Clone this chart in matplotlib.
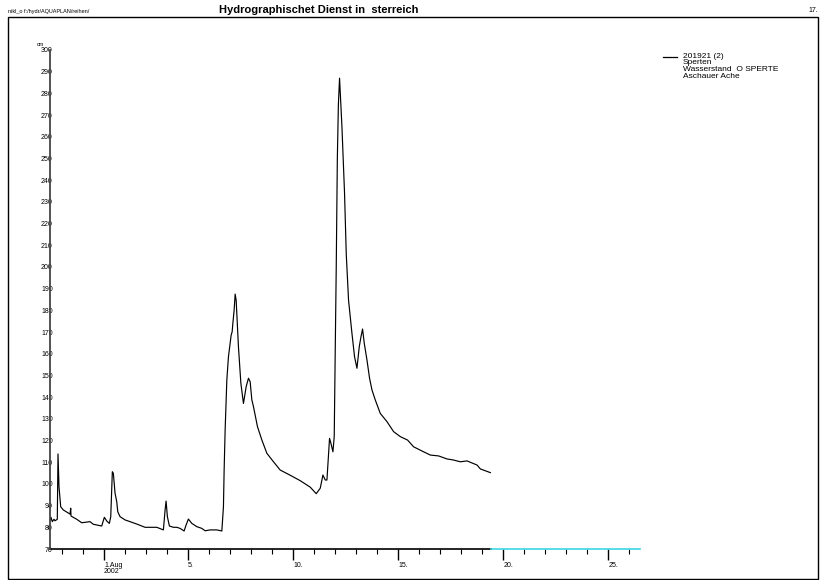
import matplotlib
matplotlib.use("Agg")
import matplotlib.pyplot as plt
from matplotlib.lines import Line2D
from matplotlib.patches import Rectangle

plt.rcParams['font.family'] = ['Liberation Sans Narrow', 'Liberation Sans', 'DejaVu Sans']

# Tag im August 2002 (0 = 31. Juli), Wasserstand in cm
days = [-1.571, -1.524, -1.462, -1.381, -1.333, -1.224, -1.190, -1.143, -1.062, -0.938,
        -0.619, -0.586, -0.571, -0.300, -0.062, 0.333, 0.490, 0.890, 1.014, 1.129,
        1.252, 1.319, 1.395, 1.443, 1.524, 1.605, 1.652, 1.762, 2.0, 2.238,
        2.557, 2.952, 3.190, 3.510, 3.824, 3.905, 3.952, 4.014, 4.110, 4.300,
        4.462, 4.619, 4.810, 4.905, 5.014, 5.176, 5.414, 5.652, 5.810, 6.048,
        6.367, 6.605, 6.681, 6.714, 6.762, 6.843, 6.919, 7.048, 7.095, 7.129,
        7.190, 7.238, 7.286, 7.395, 7.510, 7.633, 7.762, 7.871, 7.952, 8.033,
        8.110, 8.300, 8.510, 8.748, 9.062, 9.381, 9.857, 10.333, 10.810, 11.095,
        11.286, 11.414, 11.524, 11.605, 11.729, 11.795, 11.890, 11.952, 12.0, 12.048,
        12.10, 12.15, 12.205, 12.319, 12.443, 12.524, 12.633, 12.795, 12.919, 13.033,
        13.143, 13.224, 13.300, 13.381, 13.510, 13.633, 13.748, 13.905, 14.143, 14.462,
        14.776, 15.095, 15.443, 15.729, 16.205, 16.524, 16.919, 17.319, 17.633, 17.952,
        18.271, 18.748, 18.905, 19.381]
level = [83.4, 84.6, 82.6, 83.7, 83.0, 83.7, 113.8, 98.7, 89.5, 88.0,
         86.1, 88.8, 85.2, 83.7, 82.1, 82.6, 81.4, 80.6, 84.6, 82.9,
         81.8, 84.9, 105.6, 104.9, 95.7, 91.8, 87.2, 84.9, 83.4, 82.6,
         81.5, 80.0, 80.0, 80.0, 78.8, 88.0, 92.1, 84.9, 80.6, 80.0,
         80.0, 79.5, 78.3, 81.1, 83.8, 81.8, 80.3, 79.5, 78.4, 78.8,
         78.8, 78.3, 89.5, 106.4, 125.0, 148.0, 158.6, 168.6, 170.1, 174.0,
         180.1, 187.5, 184.7, 163.2, 146.4, 137.1, 144.8, 148.7, 147.1, 138.7,
         135.6, 126.4, 120.2, 114.1, 110.2, 106.4, 104.0, 101.5, 98.5, 95.5,
         98.0, 104.1, 101.8, 101.8, 121.0, 118.7, 114.8, 121.8, 161.7, 200.0,
         250.0, 275.0, 287.0, 264.6, 233.9, 206.0, 184.7, 169.4, 158.6, 153.3,
         163.2, 167.8, 171.4, 164.8, 157.1, 148.7, 143.3, 138.7, 132.5, 128.7,
         124.1, 121.8, 120.2, 117.1, 114.8, 113.3, 112.9, 111.5, 111.0, 110.2,
         110.6, 108.7, 106.9, 105.2]

ytick_vals = list(range(70, 301, 10))
xtick_vals = [1, 5, 10, 15, 20, 25]
xtick_labels = ['1.Aug\n2002', '5.', '10.', '15.', '20.', '25.']
legend_lines = ['201921 (2)', 'Sperten', 'Wasserstand  O SPERTE', 'Aschauer Ache']

W, H = 823, 580
fig = plt.figure(figsize=(W / 100, H / 100), dpi=100)

def fx(x):
    return x / W

def fy(y):
    return 1 - y / H

ax = fig.add_axes([fx(50), fy(549), fx(640) - fx(50), fy(50) - fy(549)])
ax.plot(days, level, color='black', lw=0.85)
ax.set_xlim(-1.571, 26.5)
ax.set_ylim(70, 300)

for s in ['top', 'right', 'bottom']:
    ax.spines[s].set_visible(False)
ax.spines['left'].set_color('#444444')
ax.spines['left'].set_linewidth(1.3)

# x-Achse: schwarz bis Datenende, danach cyan
tr = ax.get_xaxis_transform()
ax.plot([-1.571, 19.43], [0, 0], color='black', lw=1.2, transform=tr, clip_on=False)
ax.plot([19.43, 26.5], [0, 0], color='#3cd6e0', lw=1.2, transform=tr, clip_on=False)

# y ticks
ax.set_yticks(ytick_vals)
ax.set_yticklabels([str(v) for v in ytick_vals])
ax.tick_params(axis='y', which='major', length=0, pad=-2, labelsize=5)
ax.set_yticks([100, 200, 250, 300], minor=True)
ax.tick_params(axis='y', which='minor', length=4, width=0.8, direction='out')

# x ticks
ax.set_xticks(xtick_vals)
ax.set_xticklabels(xtick_labels, ha='left', linespacing=0.75)
ax.set_xticks(list(range(-1, 27)), minor=True)
ax.tick_params(axis='x', which='major', length=8, width=1, direction='out', pad=1.5, labelsize=5)
ax.tick_params(axis='x', which='minor', length=3.5, width=0.8, direction='out')

# Kopfzeile
fig.text(fx(8), fy(11), 'nikl_o f:/hydr/AQUAPLAN/reihen/', fontsize=4, va='center')
fig.text(fx(319), fy(10), 'Hydrographischet Dienst in  sterreich', fontsize=8,
         fontweight='bold', ha='center', va='center')
fig.text(fx(818), fy(11), '17.', fontsize=5, ha='right', va='center')
fig.text(fx(37), fy(45), 'cm', fontsize=4, va='center')

# Rahmen
fig.add_artist(Rectangle((fx(8), fy(579)), fx(818) - fx(8), fy(17) - fy(579),
                         transform=fig.transFigure, fill=False, lw=1.0, ec='black'))

# Legende
fig.add_artist(Line2D([fx(663), fx(677)], [fy(57), fy(57)], color='black', lw=0.9,
                      transform=fig.transFigure))
fig.text(fx(683), fy(53), '\n'.join(legend_lines), fontsize=6, va='top', linespacing=0.9)

fig.savefig('out.png', dpi=100)
